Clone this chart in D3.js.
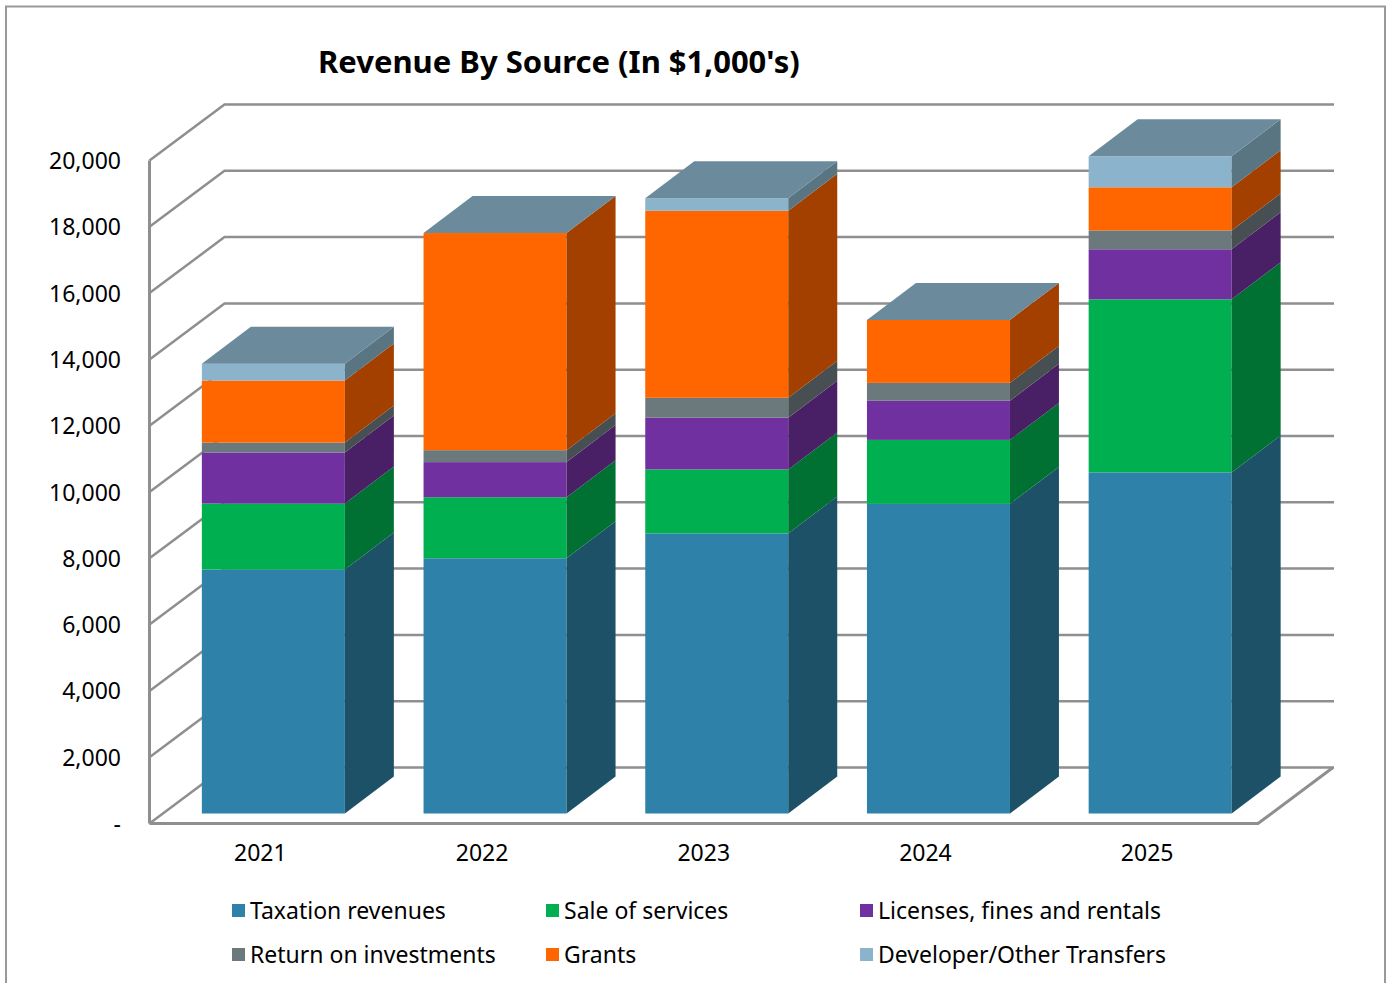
<!DOCTYPE html>
<html><head><meta charset="utf-8">
<script src="https://cdn.jsdelivr.net/npm/d3@7"></script>
<style>html,body{margin:0;padding:0;background:#fff;overflow:hidden}svg{display:block}text{font-family:"Noto Sans","Open Sans";fill:#000}</style>
</head><body><div id="c"></div>
<script>
const years=["2021","2022","2023","2024","2025"];
const seriesNames=["Taxation revenues","Sale of services","Licenses, fines and rentals","Return on investments","Grants","Developer/Other Transfers"];
const taxation=[7360,7700,8450,9340,10290];
const services=[1990,1840,1930,1930,5220];
const licenses=[1540,1060,1560,1180,1510];
const investments=[300,360,600,540,570];
const grants=[1870,6550,5640,1900,1300];
const transfers=[510,0,380,0,935];
const columns=[taxation,services,licenses,investments,grants,transfers];
const frontColors=["#2e81a8","#00b050","#7030a0","#6b797d","#ff6600","#8cb3cc"];
const sideColors=["#1c5168","#007033","#491f66","#484f52","#a34000","#5a7582"];
const topColor="#6b8a9c";
const yTicks=[0,2000,4000,6000,8000,10000,12000,14000,16000,18000,20000];
const gridColor="#8f8f8f";

const W=1390,H=983;
const svg=d3.select("#c").append("svg").attr("width",W).attr("height",H);
svg.append("rect").attr("x",6).attr("y",6.5).attr("width",1379).attr("height",H+20).attr("fill","#fff").attr("stroke","#999").attr("stroke-width",2);

const table=years.map((y,i)=>{const o={year:y};seriesNames.forEach((s,j)=>o[s]=columns[j][i]);return o;});
const stacked=d3.stack().keys(seriesNames)(table);

const wallDx=75,wallDy=-56,barDx=49,barDy=-37,barShiftX=13,barShiftY=-10;
const x=d3.scaleBand().domain(years).range([149.5,1258]).paddingInner(0.355).paddingOuter(0.1775);
const y=d3.scaleLinear().domain([0,20000]).range([823.5,160.5]);
const fmt=v=>v===0?"-":d3.format(",")(v);

const grid=svg.append("g").attr("fill","none").attr("stroke",gridColor).attr("stroke-width",2.5).attr("stroke-linejoin","miter");
yTicks.forEach(t=>{
  grid.append("polyline").attr("points",[[x.range()[0],y(t)],[x.range()[0]+wallDx,y(t)+wallDy],[x.range()[1]+wallDx+1,y(t)+wallDy]].join(" "));
});
grid.append("line").attr("x1",x.range()[0]).attr("x2",x.range()[0]).attr("y1",y(20000)).attr("y2",y(0)).attr("stroke-width",3);
grid.append("polyline").attr("points",[[x.range()[0],y(0)],[x.range()[1],y(0)],[x.range()[1]+wallDx,y(0)+wallDy]].join(" ")).attr("stroke-width",3);

const yb=v=>y(v)+barShiftY;
years.forEach((yr,i)=>{
  const g=svg.append("g");
  const x0=x(yr)+barShiftX,x1=x0+x.bandwidth();
  stacked.forEach((layer,j)=>{
    const [a,b]=layer[i];
    g.append("rect").attr("x",x0).attr("width",x.bandwidth()).attr("y",yb(b)).attr("height",Math.max(0,yb(a)-yb(b))).attr("fill",frontColors[j]);
    g.append("polygon").attr("points",[[x1,yb(a)],[x1+barDx,yb(a)+barDy],[x1+barDx,yb(b)+barDy],[x1,yb(b)]].join(" ")).attr("fill",sideColors[j]);
  });
  const top=stacked[stacked.length-1][i][1];
  g.append("polygon").attr("points",[[x0,yb(top)],[x0+barDx,yb(top)+barDy],[x1+barDx,yb(top)+barDy],[x1,yb(top)]].join(" ")).attr("fill",topColor);
});

svg.append("g").selectAll("text").data(yTicks).join("text")
  .attr("x",121).attr("y",d=>y(d)+8.5).attr("text-anchor","end").attr("font-size",23).text(fmt);
svg.append("g").selectAll("text").data(years).join("text")
  .attr("x",d=>x(d)+x.bandwidth()/2).attr("y",861).attr("text-anchor","middle").attr("font-size",23).text(d=>d);

svg.append("text").attr("x",318).attr("y",73).attr("font-size",31).attr("font-weight","bold").text("Revenue By Source (In $1,000's)");

const legendX=[232,546,860],legendY=[904,948];
const legend=svg.append("g");
seriesNames.forEach((s,j)=>{
  const lx=legendX[j%3],ly=legendY[Math.floor(j/3)];
  legend.append("rect").attr("x",lx).attr("y",ly).attr("width",13).attr("height",13).attr("fill",frontColors[j]);
  legend.append("text").attr("x",lx+18).attr("y",ly+14.5).attr("font-size",23).text(s);
});
</script></body></html>
